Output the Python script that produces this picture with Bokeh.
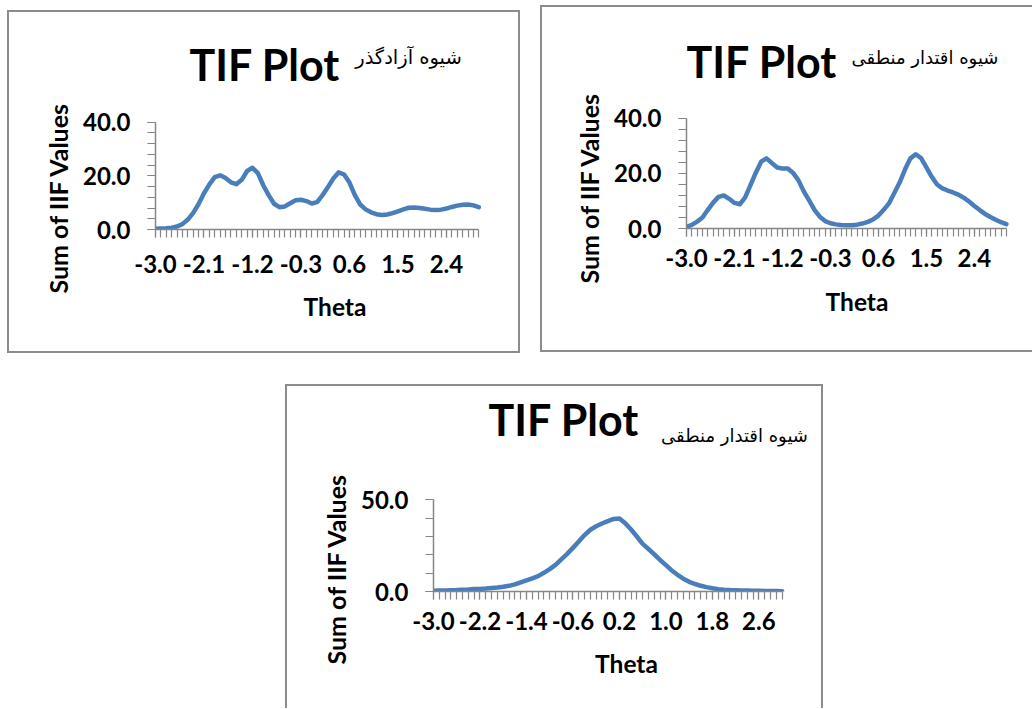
from bokeh.plotting import figure
from bokeh.models import Range1d, FixedTicker, Label, Spacer, Title, NumeralTickFormatter
from bokeh.layouts import row, column
from bokeh.embed import file_html
from bokeh.resources import INLINE

# ---------------- data ----------------
theta = [-3.0, -2.9, -2.8, -2.7, -2.6, -2.5, -2.4, -2.3, -2.2, -2.1,
         -2.0, -1.9, -1.8, -1.7, -1.6, -1.5, -1.4, -1.3, -1.2, -1.1,
         -1.0, -0.9, -0.8, -0.7, -0.6, -0.5, -0.4, -0.3, -0.2, -0.1,
         0.0, 0.1, 0.2, 0.3, 0.4, 0.5, 0.6, 0.7, 0.8, 0.9,
         1.0, 1.1, 1.2, 1.3, 1.4, 1.5, 1.6, 1.7, 1.8, 1.9,
         2.0, 2.1, 2.2, 2.3, 2.4, 2.5, 2.6, 2.7, 2.8, 2.9, 3.0]

tif_free = [0.3, 0.4, 0.5, 0.7, 1.1, 2.0, 3.7, 6.2, 9.5, 13.5,
            16.8, 19.5, 20.2, 19.2, 17.6, 16.9, 18.5, 21.8, 23.0, 21.0,
            16.5, 12.8, 9.6, 8.3, 8.6, 9.8, 10.9, 11.1, 10.6, 9.7,
            10.2, 12.8, 15.8, 19.0, 21.3, 20.5, 17.5, 12.8, 9.3, 7.5,
            6.4, 5.7, 5.4, 5.6, 6.1, 6.8, 7.5, 8.1, 8.2, 8.0,
            7.7, 7.4, 7.3, 7.4, 7.8, 8.4, 8.9, 9.2, 9.3, 9.0, 8.3]

tif_logistic_a = [0.6, 1.3, 2.5, 4.0, 6.8, 9.4, 11.5, 12.0, 10.8, 9.3,
                  8.8, 11.3, 15.8, 20.3, 24.3, 25.5, 23.8, 22.2, 21.8, 21.8,
                  20.2, 17.5, 13.5, 10.2, 6.8, 4.3, 2.7, 1.9, 1.5, 1.3,
                  1.2, 1.2, 1.4, 1.8, 2.4, 3.3, 4.7, 6.8, 9.2, 13.0,
                  16.8, 21.5, 25.5, 27.0, 25.6, 22.2, 18.8, 16.0, 14.6, 13.8,
                  13.1, 12.3, 11.2, 9.8, 8.2, 6.7, 5.3, 4.2, 3.2, 2.3, 1.6]

tif_logistic_b = [0.4, 0.5, 0.6, 0.7, 0.8, 1.0, 1.1, 1.3, 1.4, 1.6,
                  1.9, 2.2, 2.6, 3.1, 3.9, 5.0, 6.1, 7.2, 8.4, 10.2,
                  12.2, 14.5, 17.5, 20.5, 23.8, 27.3, 30.8, 33.7, 35.6, 37.1,
                  38.4, 39.6, 39.8, 37.2, 33.8, 30.0, 26.0, 23.2, 20.3, 17.2,
                  14.4, 11.5, 9.1, 7.0, 5.3, 4.1, 3.1, 2.4, 1.8, 1.3,
                  1.0, 0.8, 0.7, 0.6, 0.5, 0.4, 0.4, 0.3, 0.3, 0.3, 0.2]

x_labels_ab = ["-3.0", "-2.1", "-1.2", "-0.3", "0.6", "1.5", "2.4"]
x_labels_c = ["-3.0", "-2.2", "-1.4", "-0.6", "0.2", "1.0", "1.8", "2.6"]
y_labels_ab = ["0.0", "20.0", "40.0"]
y_labels_c = ["0.0", "50.0"]

title_main = "TIF Plot"
subtitle_free = "شیوه آزادگذر"
subtitle_logistic = "شیوه اقتدار منطقی"
x_title = "Theta"
y_title = "Sum of IIF Values"

LINE = "#4a7ebb"
AXIS = "#868686"
BORDER = "2px solid #8c8c8c"
FONT = "Lato"
FA_FONT = "DejaVu Sans"


def make_panel(ox, oy, W, H, ax_x, x3_px, y0_px, ymax_px, ymax, frame_top, frame_right,
               y_minor_step, y_labels, x_labels, ys, sub, sub_size,
               title_pos, sub_pos, ytitle_bottom, xlab_standoff, xtitle_standoff, border):
    fl = ax_x - ox
    ft = frame_top - oy
    fh = y0_px - frame_top
    fw = frame_right - ax_x
    ppux = (x3_px - ax_x) / 6.0
    ppuy = (y0_px - ymax_px) / ymax
    mbr = W - fl - fw
    mbb = H - ft - fh

    p = figure(title=None, frame_width=fw, frame_height=fh,
               min_border_left=fl, min_border_top=ft,
               min_border_right=mbr, min_border_bottom=mbb,
               x_range=Range1d(-3.0, -3.0 + fw / ppux), y_range=Range1d(0, fh / ppuy),
               output_backend="svg", toolbar_location=None,
               background_fill_color="white", border_fill_color="white")
    p.outline_line_color = None
    p.grid.visible = False
    p.styles = border

    xt = [float(s) for s in x_labels]
    yt_vals = [float(s) for s in y_labels]

    xa = p.xaxis[0]
    xa.ticker = FixedTicker(ticks=xt, minor_ticks=theta)
    xa.formatter = NumeralTickFormatter(format="0.0")
    xa.bounds = (theta[0], theta[-1])
    ya = p.yaxis[0]
    ya.ticker = FixedTicker(ticks=yt_vals,
                            minor_ticks=[i * y_minor_step for i in range(int(round(ymax / y_minor_step)) + 1)])
    ya.formatter = NumeralTickFormatter(format="0.0")
    ya.bounds = (0, ymax)
    for ax in (xa, ya):
        ax.axis_line_color = AXIS
        ax.axis_line_width = 1.5
        ax.major_tick_line_color = AXIS
        ax.minor_tick_line_color = AXIS
        ax.major_tick_line_width = 1.2
        ax.minor_tick_line_width = 1.2
        ax.major_tick_in = 0
        ax.minor_tick_in = 0
        ax.major_tick_out = 8
        ax.minor_tick_out = 8
        ax.major_label_text_font = FONT
        ax.major_label_text_font_style = "bold"
        ax.major_label_text_font_size = "24px"
        ax.major_label_text_color = "black"
    xa.major_label_standoff = xlab_standoff
    ya.major_label_standoff = 17

    xa.axis_label = x_title
    xa.axis_label_text_font = FONT
    xa.axis_label_text_font_style = "bold"
    xa.axis_label_text_font_size = "24.5px"
    xa.axis_label_text_color = "black"
    xa.axis_label_standoff = xtitle_standoff

    p.add_layout(Title(text=y_title, align="left", offset=-(ytitle_bottom - y0_px),
                       standoff=15,
                       text_font=FONT, text_font_style="bold", text_font_size="25px",
                       text_color="black"), "left")

    p.line(theta, ys, line_color=LINE, line_width=4.5, line_join="round", line_cap="round")

    def lab(text, px, py, size, font, style, align, baseline):
        p.add_layout(Label(x=px - ax_x, y=y0_px - py, x_units="screen", y_units="screen",
                           text=text, text_font=font, text_font_style=style,
                           text_font_size=size, text_color="black",
                           text_align=align, text_baseline=baseline))

    lab(title_main, title_pos[0], title_pos[1], "43px", FONT, "bold", "left", "alphabetic")
    lab(sub, sub_pos[0], sub_pos[1], sub_size, FA_FONT, "normal", "center", "middle")
    return p


full = {"border": BORDER}
no_right = {"border-top": BORDER, "border-left": BORDER, "border-bottom": BORDER}
no_bottom = {"border-top": BORDER, "border-left": BORDER, "border-right": BORDER}

p1 = make_panel(9, 12, 509, 339, 155, 474.7, 225, 119.7, 40, 17, 510, 4,
                y_labels_ab, x_labels_ab, tif_free, subtitle_free, "19.5px",
                (189, 60), (408, 52.5), 289, 17, 16, full)
p2 = make_panel(542, 7, 490, 343, 686, 1004, 224, 116, 40, 12, 1025, 4,
                y_labels_ab, x_labels_ab, tif_logistic_a, subtitle_logistic, "18px",
                (686, 57), (924.5, 52.5), 279, 12, 17, no_right)
p3 = make_panel(287, 386, 534, 322, 433, 778, 589, 498.3, 50, 394, 815, 10,
                y_labels_c, x_labels_c, tif_logistic_b, subtitle_logistic, "18px",
                (488, 417), (734, 433), 662, 12, 16, no_bottom)

layout = column(
    row(Spacer(width=7), column(Spacer(height=10), p1), Spacer(width=20),
        column(Spacer(height=5), p2)),
    Spacer(height=31),
    row(Spacer(width=285), p3),
)

open("out.html", "w").write(file_html(layout, INLINE))
